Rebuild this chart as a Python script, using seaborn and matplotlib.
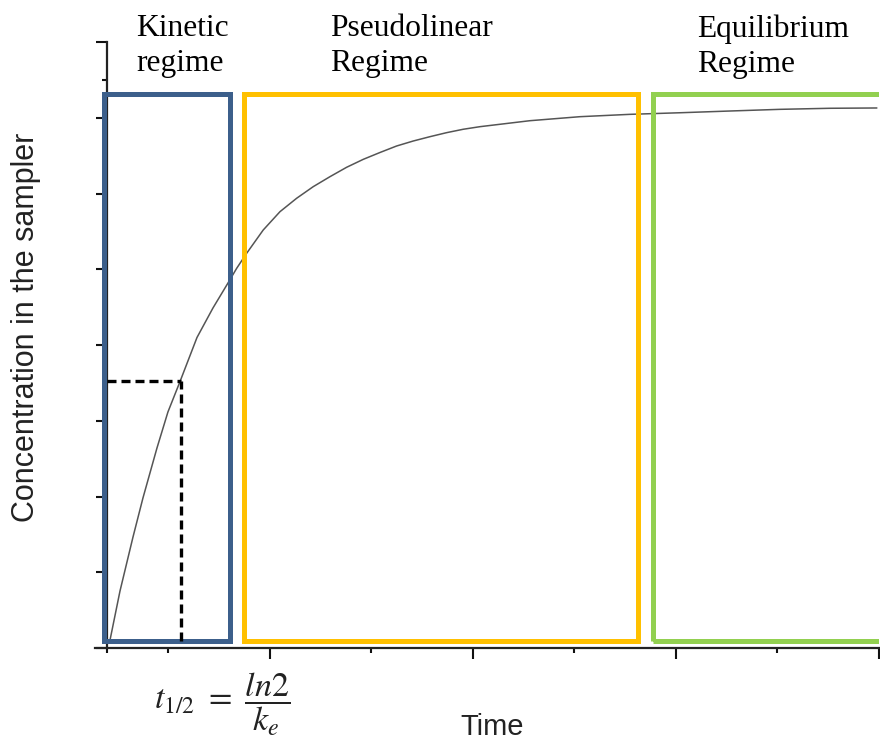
import numpy as np
import pandas as pd
import matplotlib
matplotlib.use("Agg")
import matplotlib.pyplot as plt
import seaborn as sns
from matplotlib.patches import Rectangle
from matplotlib.ticker import NullFormatter

# ---- data ----
time = [0.030, 0.128, 0.256, 0.354, 0.492, 0.600, 0.719, 0.886, 1.043, 1.191,
        1.277, 1.375, 1.538, 1.703, 1.867, 2.030, 2.195, 2.359, 2.523, 2.687,
        2.851, 3.015, 3.179, 3.343, 3.507, 3.671, 4.163, 4.656, 5.148, 5.640,
        6.132, 6.624, 7.116, 7.579]
conc = [0.106, 0.752, 1.465, 1.980, 2.640, 3.116, 3.518, 4.099, 4.488, 4.818,
        5.013, 5.211, 5.518, 5.760, 5.937, 6.090, 6.222, 6.346, 6.451, 6.541,
        6.627, 6.693, 6.750, 6.803, 6.848, 6.882, 6.961, 7.014, 7.045, 7.066,
        7.089, 7.111, 7.125, 7.129]

regime_labels = ["Kinetic\nregime", "Pseudolinear\nRegime", "Equilibrium\nRegime"]
regime_start = [-0.028, 1.348, 5.379]
regime_end = [1.215, 5.226, 8.5]
regime_low = 0.099
regime_high = 7.313
regime_colors = ["#3C5F8B", "#FFC000", "#92D050"]

half_time = 0.728
half_conc = 3.525

x_major = [1.6, 3.6, 5.6, 7.6]
x_minor = [0.0, 0.6, 2.6, 4.6, 6.6]
y_major = list(range(0, 9))
y_minor = [v + 0.5 for v in range(0, 8)]

# ---- figure ----
sns.set_theme(style="white")
plt.rcParams["font.family"] = ["Liberation Sans", "DejaVu Sans"]
plt.rcParams["mathtext.fontset"] = "stix"

W, H = 880, 745
fig = plt.figure(figsize=(W / 100, H / 100), dpi=100)
ax = fig.add_axes([95 / W, (H - 648) / H, (879 - 95) / W, (648 - 42) / H])

df = pd.DataFrame({"Time": time, "Concentration": conc})
sns.lineplot(data=df, x="Time", y="Concentration", ax=ax, color="#555555",
             lw=1.1, zorder=2)

for x0, x1, c in zip(regime_start, regime_end, regime_colors):
    ax.add_patch(Rectangle((x0, regime_low), x1 - x0, regime_high - regime_low,
                           fill=False, ec=c, lw=3.6, zorder=3,
                           joinstyle="miter"))

ax.plot([0, half_time], [half_conc, half_conc], color="black", lw=2.4,
        ls=(0, (2.7, 1.5)), zorder=4)
ax.plot([half_time, half_time], [regime_low, half_conc], color="black", lw=2.4,
        ls=(0, (2.7, 1.5)), zorder=4)

ax.set_xlim(-0.118, 7.6)
ax.set_ylim(0, 8)
ax.spines["left"].set_position(("data", 0))
for s in ["top", "right"]:
    ax.spines[s].set_visible(False)
for s in ["left", "bottom"]:
    ax.spines[s].set_color("#222222")
    ax.spines[s].set_linewidth(1.6)

ax.set_xticks(x_major)
ax.set_xticks(x_minor, minor=True)
ax.set_yticks(y_major)
ax.set_yticks(y_minor, minor=True)
ax.xaxis.set_major_formatter(NullFormatter())
ax.yaxis.set_major_formatter(NullFormatter())
ax.tick_params(which="major", direction="out", length=8, width=1.5,
               color="#111111", bottom=True, left=True)
ax.tick_params(which="minor", direction="out", length=3.5, width=1.5,
               color="#111111", bottom=True, left=True)
ax.set_xlabel("")
ax.set_ylabel("")

# ---- texts ----
serif = ["Liberation Serif", "DejaVu Serif"]
label_x = [136, 330, 697]
for lab, lx in zip(regime_labels, label_x):
    fig.text(lx / W, 1 - 14 / H, lab, family=serif, fontsize=22.7,
             ha="left", va="top", linespacing=1.29, color="black")

fig.text(26 / W, 1 - 327 / H, "Concentration in the sampler", rotation=90,
         ha="center", va="center", fontsize=22, color="#222222")
fig.text(492 / W, 1 - 727 / H, "Time", ha="center", va="center",
         fontsize=21, color="#222222")
fig.text(154 / W, 1 - 710 / H, r"$t_{1/2}\ =\ \dfrac{ln2}{k_e}$", ha="left",
         va="baseline", fontsize=24.5, color="#222222")

fig.savefig("out.png", dpi=100)
